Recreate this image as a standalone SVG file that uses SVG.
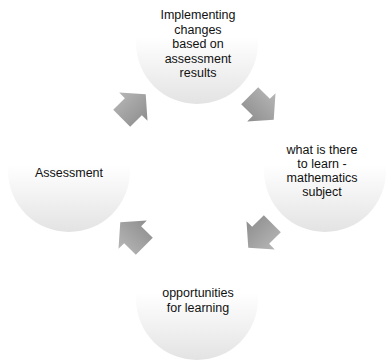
<svg xmlns="http://www.w3.org/2000/svg" width="386" height="361" viewBox="0 0 386 361">
  <defs>
    <linearGradient id="discFill" x1="0" y1="0" x2="0" y2="1">
      <stop offset="0" stop-color="#ffffff"/>
      <stop offset="0.45" stop-color="#ffffff"/>
      <stop offset="1" stop-color="#e3e3e3"/>
    </linearGradient>
    <linearGradient id="arrowFill" x1="0" y1="0" x2="0" y2="1">
      <stop offset="0" stop-color="#b6b6b6"/>
      <stop offset="1" stop-color="#8e8e8e"/>
    </linearGradient>
    <!-- block arrow pointing along +x, centred on the origin -->
    <path id="blockArrow" d="M -16 -12 L 0.5 -12 L 0.5 -20 L 18 0 L 0.5 20 L 0.5 12 L -16 12 Z"/>
  </defs>
  <style>
    .disc { fill: url(#discFill); stroke: none; }
    .arrow { fill: url(#arrowFill); stroke: none; }
    .label { font-family: "Liberation Sans", Arial, sans-serif; font-size: 12.5px; fill: #111111; text-anchor: middle; }
  </style>

  <rect width="386" height="361" fill="#ffffff"/>

  <g id="connectors">
    <use href="#blockArrow" class="arrow" transform="translate(261,107) rotate(45)"/>
    <use href="#blockArrow" class="arrow" transform="translate(261,235) rotate(135)"/>
    <use href="#blockArrow" class="arrow" transform="translate(133,235) rotate(225)"/>
    <use href="#blockArrow" class="arrow" transform="translate(133,107) rotate(315)"/>
  </g>

  <g id="node-implementing">
    <circle class="disc" cx="197" cy="43" r="61"/>
    <text class="label" x="198" y="19">Implementing</text>
    <text class="label" x="198" y="33.5">changes</text>
    <text class="label" x="198" y="48">based on</text>
    <text class="label" x="198" y="62.5">assessment</text>
    <text class="label" x="198" y="77">results</text>
  </g>

  <g id="node-mathematics">
    <circle class="disc" cx="325" cy="171" r="61"/>
    <text class="label" x="322" y="154">what is there</text>
    <text class="label" x="322" y="168">to learn -</text>
    <text class="label" x="322" y="182">mathematics</text>
    <text class="label" x="322" y="196">subject</text>
  </g>

  <g id="node-opportunities">
    <circle class="disc" cx="197" cy="299" r="61"/>
    <text class="label" x="198" y="297">opportunities</text>
    <text class="label" x="198" y="311.5">for learning</text>
  </g>

  <g id="node-assessment">
    <circle class="disc" cx="69" cy="171" r="61"/>
    <text class="label" x="69" y="176.5">Assessment</text>
  </g>
</svg>
